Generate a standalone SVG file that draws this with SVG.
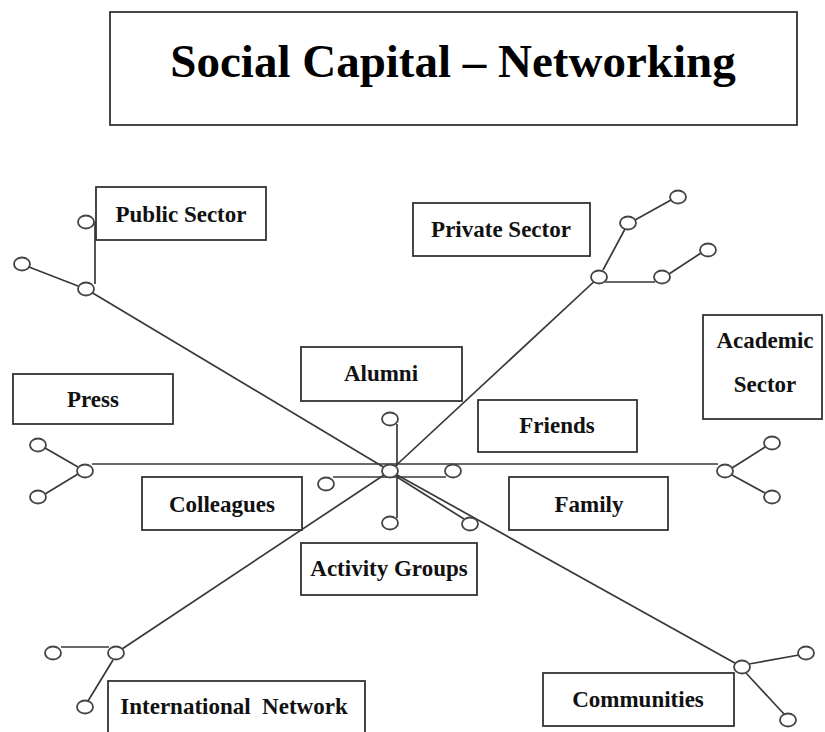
<svg xmlns="http://www.w3.org/2000/svg" width="825" height="732" viewBox="0 0 825 732">
  <style>
    .box { fill: #ffffff; stroke: #333333; stroke-width: 1.8; }
    .lbl { font-family: "Liberation Serif", "Times New Roman", serif; font-weight: bold; font-size: 23px; fill: #111111; text-anchor: middle; }
    .title { font-family: "Liberation Serif", "Times New Roman", serif; font-weight: bold; font-size: 47px; fill: #000000; text-anchor: middle; }
    .ln { stroke: #383838; stroke-width: 1.7; fill: none; }
    .dot { fill: #ffffff; stroke: #444444; stroke-width: 1.8; }
  </style>
  <rect width="825" height="732" fill="#ffffff"/>

  <g id="title">
    <rect class="box" x="110" y="12" width="687" height="113"/>
    <text class="title" x="453" y="77">Social Capital – Networking</text>
  </g>

  <!-- connectors -->
  <g id="connectors">
    <!-- main spokes through the hub -->
    <line class="ln" x1="86" y1="289" x2="390" y2="471"/>
    <line class="ln" x1="390" y1="471" x2="742" y2="667"/>
    <line class="ln" x1="390" y1="471" x2="599" y2="277"/>
    <line class="ln" x1="390" y1="471" x2="116" y2="653"/>
    <line class="ln" x1="92" y1="464" x2="718" y2="464"/>
    <!-- hub branches -->
    <line class="ln" x1="397" y1="424" x2="397" y2="466"/>
    <line class="ln" x1="397" y1="476" x2="397" y2="518"/>
    <line class="ln" x1="333" y1="477" x2="446" y2="477"/>
    <line class="ln" x1="397" y1="477" x2="464" y2="519"/>
    <!-- public sector branches -->
    <line class="ln" x1="95" y1="222" x2="95" y2="284"/>
    <line class="ln" x1="29" y1="267" x2="78" y2="286"/>
    <!-- private sector branches -->
    <line class="ln" x1="603" y1="270" x2="625" y2="229"/>
    <line class="ln" x1="635" y1="220" x2="671" y2="200"/>
    <line class="ln" x1="605" y1="282" x2="655" y2="282"/>
    <line class="ln" x1="669" y1="274" x2="701" y2="253"/>
    <!-- press branches -->
    <line class="ln" x1="45" y1="448" x2="78" y2="467"/>
    <line class="ln" x1="45" y1="494" x2="78" y2="474"/>
    <!-- academic sector branches -->
    <line class="ln" x1="732" y1="468" x2="765" y2="447"/>
    <line class="ln" x1="732" y1="475" x2="765" y2="493"/>
    <!-- international network branches -->
    <line class="ln" x1="61" y1="647" x2="109" y2="647"/>
    <line class="ln" x1="113" y1="660" x2="88" y2="701"/>
    <!-- communities branches -->
    <line class="ln" x1="749" y1="664" x2="799" y2="655"/>
    <line class="ln" x1="746" y1="673" x2="784" y2="714"/>
  </g>

  <g id="junctions">
    <ellipse class="dot" cx="390" cy="471" rx="8" ry="6.5"/>
    <ellipse class="dot" cx="390" cy="419" rx="8" ry="6.5"/>
    <ellipse class="dot" cx="390" cy="523" rx="8" ry="6.5"/>
    <ellipse class="dot" cx="326" cy="484" rx="8" ry="6.5"/>
    <ellipse class="dot" cx="453" cy="471" rx="8" ry="6.5"/>
    <ellipse class="dot" cx="470" cy="524" rx="8" ry="6.5"/>

    <ellipse class="dot" cx="86" cy="222" rx="8" ry="6.5"/>
    <ellipse class="dot" cx="22" cy="264" rx="8" ry="6.5"/>
    <ellipse class="dot" cx="86" cy="289" rx="8" ry="6.5"/>

    <ellipse class="dot" cx="599" cy="277" rx="8" ry="6.5"/>
    <ellipse class="dot" cx="628" cy="223" rx="8" ry="6.5"/>
    <ellipse class="dot" cx="678" cy="197" rx="8" ry="6.5"/>
    <ellipse class="dot" cx="662" cy="277" rx="8" ry="6.5"/>
    <ellipse class="dot" cx="708" cy="250" rx="8" ry="6.5"/>

    <ellipse class="dot" cx="85" cy="471" rx="8" ry="6.5"/>
    <ellipse class="dot" cx="38" cy="445" rx="8" ry="6.5"/>
    <ellipse class="dot" cx="38" cy="497" rx="8" ry="6.5"/>

    <ellipse class="dot" cx="725" cy="471" rx="8" ry="6.5"/>
    <ellipse class="dot" cx="772" cy="443" rx="8" ry="6.5"/>
    <ellipse class="dot" cx="772" cy="497" rx="8" ry="6.5"/>

    <ellipse class="dot" cx="116" cy="653" rx="8" ry="6.5"/>
    <ellipse class="dot" cx="53" cy="653" rx="8" ry="6.5"/>
    <ellipse class="dot" cx="85" cy="707" rx="8" ry="6.5"/>

    <ellipse class="dot" cx="742" cy="667" rx="8" ry="6.5"/>
    <ellipse class="dot" cx="806" cy="653" rx="8" ry="6.5"/>
    <ellipse class="dot" cx="788" cy="720" rx="8" ry="6.5"/>
  </g>

  <g id="public-sector">
    <rect class="box" x="96" y="187" width="170" height="53"/>
    <text class="lbl" x="181" y="222">Public Sector</text>
  </g>
  <g id="private-sector">
    <rect class="box" x="413" y="203" width="177" height="53"/>
    <text class="lbl" x="501" y="237">Private Sector</text>
  </g>
  <g id="alumni">
    <rect class="box" x="301" y="347" width="161" height="54"/>
    <text class="lbl" x="381" y="381">Alumni</text>
  </g>
  <g id="press">
    <rect class="box" x="13" y="374" width="160" height="50"/>
    <text class="lbl" x="93" y="407">Press</text>
  </g>
  <g id="academic-sector">
    <rect class="box" x="703" y="315" width="119" height="104"/>
    <text class="lbl" x="765" y="348">Academic</text>
    <text class="lbl" x="765" y="392">Sector</text>
  </g>
  <g id="friends">
    <rect class="box" x="478" y="400" width="159" height="52"/>
    <text class="lbl" x="557" y="433">Friends</text>
  </g>
  <g id="colleagues">
    <rect class="box" x="142" y="477" width="160" height="53"/>
    <text class="lbl" x="222" y="512">Colleagues</text>
  </g>
  <g id="family">
    <rect class="box" x="509" y="477" width="159" height="53"/>
    <text class="lbl" x="589" y="512">Family</text>
  </g>
  <g id="activity-groups">
    <rect class="box" x="301" y="543" width="176" height="52"/>
    <text class="lbl" x="389" y="576">Activity Groups</text>
  </g>
  <g id="international-network">
    <rect class="box" x="108" y="681" width="257" height="56"/>
    <text class="lbl" x="234" y="714" xml:space="preserve">International  Network</text>
  </g>
  <g id="communities">
    <rect class="box" x="543" y="673" width="191" height="53"/>
    <text class="lbl" x="638" y="707">Communities</text>
  </g>
</svg>
